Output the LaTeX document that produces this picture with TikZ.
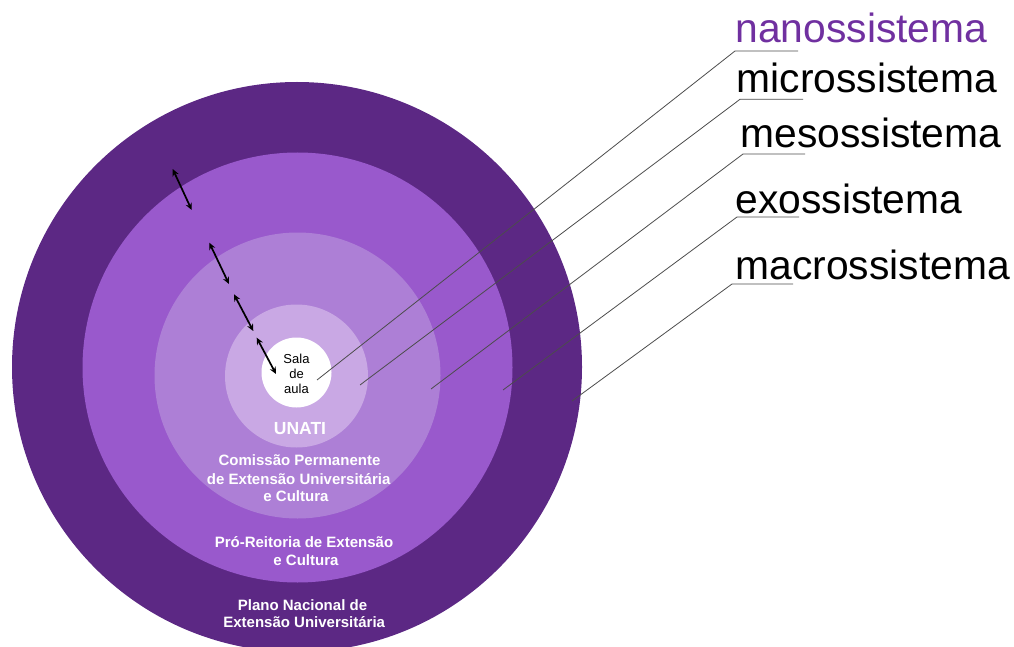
\documentclass[tikz,border=0pt]{standalone}
\usepackage{fontspec}
\setmainfont{Liberation Sans}
\usetikzlibrary{arrows.meta}
\definecolor{cOuter}{HTML}{5C2884}
\definecolor{cExo}{HTML}{9959CC}
\definecolor{cMeso}{HTML}{AD7FD6}
\definecolor{cMicro}{HTML}{C9A8E4}
\definecolor{cNano}{HTML}{7030A0}
\tikzset{
  ring/.style={circle, inner sep=0pt, outer sep=0pt, draw=none},
  biglabel/.style={anchor=base west, inner sep=0pt, font=\fontsize{40.8}{48}\selectfont},
  leader/.style={draw=black!70, line width=0.8pt},
  inlabel/.style={anchor=base, inner sep=0pt, text=white, font=\bfseries\fontsize{15}{18}\selectfont},
  salalabel/.style={anchor=base, inner sep=0pt, text=black, font=\fontsize{13}{15}\selectfont},
  dblarrow/.style={line width=1.7pt, {Stealth[length=7pt,width=6.5pt]}-{Stealth[length=7pt,width=6.5pt]}}
}
\begin{document}
\begin{tikzpicture}[x=1pt,y=-1pt]
\useasboundingbox (0,0) rectangle (1014,647);
\clip (0,0) rectangle (1014,647);
% rings
\node[ring, fill=cOuter, minimum size=570pt] (outer) at (297,367) {};
\node[ring, fill=cExo, minimum size=430pt] (exo) at (297.5,367.5) {};
\node[ring, fill=cMeso, minimum size=286pt] (meso) at (297.5,375.5) {};
\node[ring, fill=cMicro, minimum size=143pt] (micro) at (296.5,376) {};
\node[ring, fill=white, minimum size=70pt] (sala) at (296.5,372.5) {};
% inner texts
\node[salalabel] (sala1) at (296.5,363) {Sala};
\node[salalabel] (sala2) at (296.5,378) {de};
\node[salalabel] (sala3) at (296.5,393.5) {aula};
\node[inlabel, font=\bfseries\fontsize{17.5}{20}\selectfont] (unati) at (300,434) {UNATI};
\node[inlabel] (com1) at (299.5,465.7) {Comissão Permanente};
\node[inlabel] (com2) at (298.7,484) {de Extensão Universitária};
\node[inlabel] (com3) at (296,501.7) {e Cultura};
\node[inlabel] (pro1) at (304,547.7) {Pró-Reitoria de Extensão};
\node[inlabel] (pro2) at (306,565.7) {e Cultura};
\node[inlabel] (pla1) at (302.5,610) {Plano Nacional de};
\node[inlabel] (pla2) at (304.2,627.7) {Extensão Universitária};
% double arrows
\coordinate (a1s) at (172.7,169); \coordinate (a1e) at (191.7,210);
\coordinate (a2s) at (209.3,242.7); \coordinate (a2e) at (229,284);
\coordinate (a3s) at (234,294.3); \coordinate (a3e) at (253.3,331);
\coordinate (a4s) at (256.7,337.7); \coordinate (a4e) at (276,374);
\draw[dblarrow] (a1s) -- (a1e);
\draw[dblarrow] (a2s) -- (a2e);
\draw[dblarrow] (a3s) -- (a3e);
\draw[dblarrow] (a4s) -- (a4e);
% right labels
\node[biglabel, text=cNano] (lnano) at (735.3,42.7) {nanossistema};
\node[biglabel] (lmicro) at (736.4,93) {microssistema};
\node[biglabel] (lmeso) at (740.4,148) {mesossistema};
\node[biglabel] (lexo) at (735.4,213) {exossistema};
\node[biglabel] (lmacro) at (735.4,279) {macrossistema};
% leader lines
\coordinate (pnano) at (317,380);   \coordinate (unano1) at (735,51);    \coordinate (unano2) at (798,51);
\coordinate (pmicro) at (360,385);  \coordinate (umicro1) at (740,99.3); \coordinate (umicro2) at (803,99.3);
\coordinate (pmeso) at (431,389);   \coordinate (umeso1) at (743,154);   \coordinate (umeso2) at (805,154);
\coordinate (pexo) at (503,390);    \coordinate (uexo1) at (737,217);    \coordinate (uexo2) at (799,217);
\coordinate (pmacro) at (572,401);  \coordinate (umacro1) at (732,284);  \coordinate (umacro2) at (793,284);
\draw[leader] (pnano) -- (unano1) -- (unano2);
\draw[leader] (pmicro) -- (umicro1) -- (umicro2);
\draw[leader] (pmeso) -- (umeso1) -- (umeso2);
\draw[leader] (pexo) -- (uexo1) -- (uexo2);
\draw[leader] (pmacro) -- (umacro1) -- (umacro2);
\end{tikzpicture}
\end{document}
